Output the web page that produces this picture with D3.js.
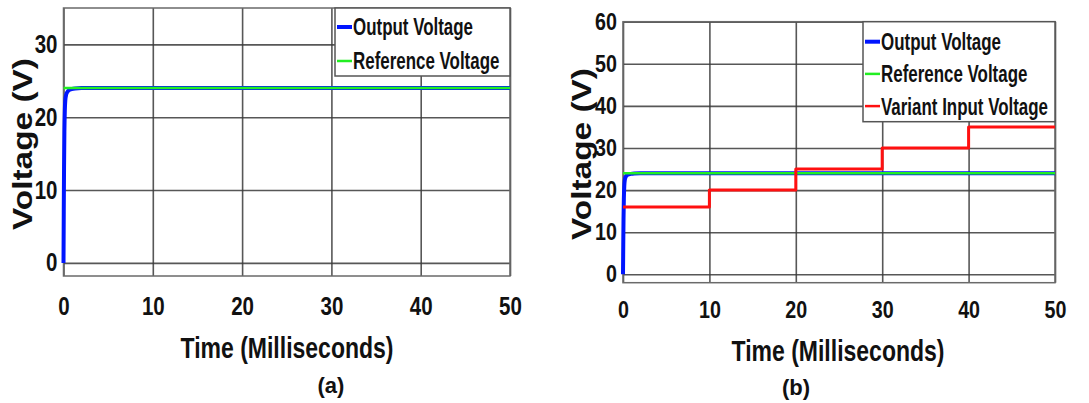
<!DOCTYPE html>
<html>
<head>
<meta charset="utf-8">
<script src="https://cdn.jsdelivr.net/npm/d3@7"></script>
<style>
  html, body { margin: 0; padding: 0; background: #fff; }
  svg { display: block; }
  text { font-family: "Liberation Sans", Arial, sans-serif; font-weight: bold; }
</style>
</head>
<body>
<div id="app"></div>
<script>
// time axis (ms)
const timeTicks = [0, 10, 20, 30, 40, 50];
const voltTicksA = [0, 10, 20, 30];
const voltTicksB = [0, 10, 20, 30, 40, 50, 60];

// output voltage: fast rise then settles at 24 V
const outputTime = [0, 0.03, 0.06, 0.1, 0.15, 0.2, 0.3, 0.45, 0.6, 0.9, 1.3, 2, 50];
const outputVolt = [0, 7, 13, 18, 21, 22.3, 23.1, 23.5, 23.7, 23.85, 23.95, 24, 24];

// reference voltage
const refTime = [0, 50];
const refVolt = [24, 24];

// variant input voltage (steps)
const inputTime = [0, 10, 10, 20, 20, 30, 30, 40, 40, 50];
const inputVolt = [16, 16, 20, 20, 25, 25, 30, 30, 35, 35];

const seriesNames = ['Output Voltage', 'Reference Voltage', 'Variant Input Voltage'];
const seriesColors = ['#0015ff', '#22ee22', '#ff1010'];
const seriesWidths = [4, 2.5, 3];

const zip = (xs, ys) => xs.map((x, i) => ({ t: x, v: ys[i] }));

// squeeze bold text horizontally, like a narrow face
const narrow = (sel, factor = 0.8) => sel.each(function() {
    const len = this.getComputedTextLength();
    d3.select(this).attr('textLength', len * factor).attr('lengthAdjust', 'spacingAndGlyphs');
});

const width = 1089;
const height = 403;

const svg = d3.select('#app').append('svg')
    .attr('width', width)
    .attr('height', height)
    .attr('viewBox', [0, 0, width, height]);

svg.append('rect').attr('width', width).attr('height', height).attr('fill', '#fff');

const drawPanel = cfg => {
    const x = d3.scaleLinear().domain([0, 50]).range([cfg.left, cfg.right]);
    const y = d3.scaleLinear().domain(cfg.yDomain).range([cfg.bottom, cfg.top]);
    const w = cfg.right - cfg.left;
    const h = cfg.bottom - cfg.top;

    const g = svg.append('g');

    // grid + tick labels via axes
    const xAxis = g.append('g')
        .attr('transform', `translate(0,${cfg.bottom})`)
        .call(d3.axisBottom(x).tickValues(timeTicks).tickSizeInner(-h).tickSizeOuter(0).tickPadding(cfg.xPad));
    const yAxis = g.append('g')
        .attr('transform', `translate(${cfg.left},0)`)
        .call(d3.axisLeft(y).tickValues(cfg.yTicks).tickSizeInner(-w).tickSizeOuter(0).tickPadding(6));

    [xAxis, yAxis].forEach(ax => {
        ax.attr('font-family', null).attr('font-size', null);
        ax.select('.domain').remove();
        ax.selectAll('.tick line').attr('stroke', '#3a3a3a').attr('stroke-width', 1.6).attr('stroke-opacity', 0.85);
        ax.selectAll('.tick text')
            .attr('fill', '#111')
            .style('font-size', `${cfg.tickSize}px`)
            .call(narrow, 0.82);
    });

    // frame
    g.append('rect')
        .attr('x', cfg.left).attr('y', cfg.top)
        .attr('width', w).attr('height', h)
        .attr('fill', 'none').attr('stroke', '#6a6a6a').attr('stroke-width', 1.5);

    const line = d3.line().x(d => x(d.t)).y(d => y(d.v));
    const lineCurve = d3.line().x(d => x(d.t)).y(d => y(d.v)).curve(d3.curveMonotoneX);

    cfg.series.forEach(s => {
        g.append('path')
            .datum(s.data)
            .attr('fill', 'none')
            .attr('stroke', seriesColors[s.idx])
            .attr('stroke-width', seriesWidths[s.idx])
            .attr('stroke-linejoin', 'round')
            .attr('d', s.smooth ? lineCurve : line);
    });

    // legend
    const lg = g.append('g');
    lg.append('rect')
        .attr('x', cfg.legend.x).attr('y', cfg.legend.y)
        .attr('width', cfg.legend.w).attr('height', cfg.legend.h)
        .attr('fill', '#fff').attr('stroke', '#555').attr('stroke-width', 1.5);
    cfg.legend.items.forEach((idx, i) => {
        const ly = cfg.legend.y + cfg.legend.first + i * cfg.legend.step;
        lg.append('line')
            .attr('x1', cfg.legend.x + 2).attr('x2', cfg.legend.x + 17)
            .attr('y1', ly).attr('y2', ly)
            .attr('stroke', seriesColors[idx])
            .attr('stroke-width', idx === 0 ? 4 : 2.5);
        lg.append('text')
            .attr('x', cfg.legend.x + 18).attr('y', ly)
            .attr('dy', '0.36em')
            .attr('fill', '#111')
            .style('font-size', '23.5px')
            .text(seriesNames[idx])
            .call(narrow, 0.72);
    });

    // axis titles
    g.append('text')
        .attr('x', cfg.xTitle[0]).attr('y', cfg.xTitle[1])
        .attr('text-anchor', 'middle')
        .attr('textLength', 213).attr('lengthAdjust', 'spacingAndGlyphs')
        .style('font-size', '30px')
        .attr('fill', '#111')
        .text('Time (Milliseconds)');

    g.append('text')
        .attr('transform', `translate(${cfg.yTitle[0]},${cfg.yTitle[1]}) rotate(-90)`)
        .attr('text-anchor', 'middle')
        .attr('textLength', 172).attr('lengthAdjust', 'spacingAndGlyphs')
        .style('font-size', '28px')
        .attr('fill', '#111')
        .text('Voltage (V)');

    g.append('text')
        .attr('x', cfg.label[0]).attr('y', cfg.label[1])
        .attr('text-anchor', 'middle')
        .style('font-size', '22px')
        .attr('fill', '#111')
        .text(cfg.label[2]);
};

drawPanel({
    left: 63.5, right: 510, top: 8, bottom: 276,
    yDomain: [-1.8, 35], yTicks: voltTicksA, tickSize: 25, xPad: 21,
    series: [
        { idx: 0, data: zip(outputTime, outputVolt), smooth: true },
        { idx: 1, data: zip(refTime, refVolt) },
    ],
    legend: { x: 335, y: 8, w: 175, h: 68, first: 19, step: 34, items: [0, 1] },
    xTitle: [287, 358],
    yTitle: [32, 144],
    label: [331, 393, '(a)'],
});

drawPanel({
    left: 623, right: 1055, top: 21.7, bottom: 282.7,
    yDomain: [-2, 60], yTicks: voltTicksB, tickSize: 24, xPad: 18,
    series: [
        { idx: 0, data: zip(outputTime, outputVolt), smooth: true },
        { idx: 1, data: zip(refTime, refVolt) },
        { idx: 2, data: zip(inputTime, inputVolt) },
    ],
    legend: { x: 863, y: 21.7, w: 192, h: 100, first: 20, step: 32.2, items: [0, 1, 2] },
    xTitle: [838, 361],
    yTitle: [591, 154],
    label: [796, 395, '(b)'],
});
</script>
</body>
</html>
